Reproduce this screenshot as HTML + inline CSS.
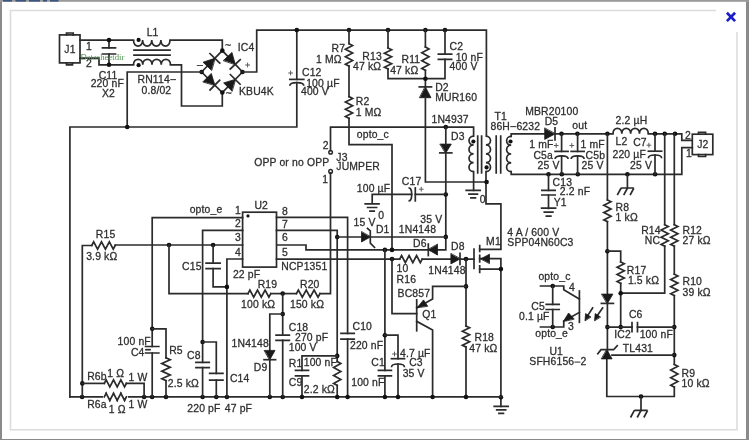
<!DOCTYPE html>
<html><head><meta charset="utf-8"><style>
html,body{margin:0;padding:0;width:749px;height:440px;overflow:hidden;background:#fff}
svg{display:block;will-change:transform}
.w path{fill:none;stroke:#2b2b2b;stroke-width:1.7;stroke-linecap:square;stroke-linejoin:miter}
.w path.t{stroke-linecap:butt}
.w path.d{stroke-width:1.1;stroke:#3a3a3a}
.w path.pl{stroke-width:1.0;stroke:#5a5a5a;stroke-linecap:butt}
.w path.f{fill:#1a1a1a;stroke:#1a1a1a;stroke-width:0.8}
.w circle.n{fill:#111;stroke:none}
.w circle.o{fill:#fff;stroke:#2b2b2b;stroke-width:1.5}
.w rect.box{fill:#fff;stroke:#2b2b2b;stroke-width:1.7}
.tx text{font-family:"Liberation Sans",sans-serif;font-size:10.4px;letter-spacing:0.15px;fill:#2e2e2e;stroke:#2e2e2e;stroke-width:0.28px}
</style></head><body>
<svg width="749" height="440" viewBox="0 0 749 440">
<rect x="0" y="0" width="749" height="440" fill="#8a8a8a"/>
<rect x="0" y="0" width="749" height="2" fill="#9a9a9a"/>
<rect x="2" y="1.8" width="744" height="437.2" fill="#ffffff"/>
<path d="M716,10.5 H10.5 V429.8 H737 V32" fill="none" stroke="#dcdcdc" stroke-width="1.6"/>
<path d="M726.9,12.7 L735.1,21.1 M735.1,12.7 L726.9,21.1" stroke="#1e1ec8" stroke-width="2.7" fill="none"/>
<rect x="3" y="0" width="9" height="1.6" fill="#3a5580"/>
<rect x="15.5" y="0" width="10.5" height="1.6" fill="#3a5580"/>
<rect x="29" y="0" width="11" height="1.6" fill="#3a5580"/>
<rect x="43" y="0" width="4" height="1.6" fill="#3a5580"/>
<rect x="50" y="0" width="8.5" height="1.6" fill="#3a5580"/>
<g class="w" transform="translate(0,0.4)">
<rect x="59.5" y="34.5" width="20.5" height="28" class="box"/>
<path d="M66.5,34.5 V32.6 H73.2 V34.5"/>
<path d="M66.5,62.5 V64.4 H72.5 V62.5"/>
<path d="M80,39.7 H133.5"/>
<path class="t" d="M133.5,39.7 C133.50,47.68 142.62,47.68 142.62,39.7 C142.62,47.68 151.75,47.68 151.75,39.7 C151.75,47.68 160.88,47.68 160.88,39.7 C160.88,47.68 170.00,47.68 170.00,39.7"/>
<path d="M170,39.7 H222.3 V50.2"/>
<path d="M80,57.7 H99 V64.4 H133.5"/>
<path class="t" d="M133.5,64.4 C133.50,57.09 142.75,57.09 142.75,64.4 C142.75,57.09 152.00,57.09 152.00,64.4 C152.00,57.09 161.25,57.09 161.25,64.4 C161.25,57.09 170.50,57.09 170.50,64.4"/>
<path d="M170.5,64.4 H181.5 V105.6 H222.3 V92.1"/>
<path d="M134,49.8 H170 M134,54.8 H170"/>
<circle cx="138.6" cy="39.5" r="2.1" class="n"/>
<circle cx="138.6" cy="64.8" r="2.1" class="n"/>
<path d="M109,39.7 V47.5 M109,53.6 V64.4"/>
<path d="M102.5,47.5 H115.5 M102.5,53.6 H115.5"/>
<circle cx="109" cy="39.7" r="2.3" class="n"/>
<circle cx="109" cy="64.4" r="2.3" class="n"/>
<path class="d" d="M170.8,79.2 H175.4"/>
<path d="M201.6,71.6 L222.3,50.2 L242.5,71.6 L222.3,92.1 Z"/>
<path class="f" d="M211.36,69.85 L203.02,61.79 L214.85,57.90Z"/>
<path d="M219.74,62.63 L209.96,53.18"/>
<path class="f" d="M223.54,59.96 L231.97,52.00 L235.23,63.90Z"/>
<path d="M230.28,68.56 L240.17,59.23"/>
<path class="f" d="M203.11,81.26 L211.27,73.01 L214.85,84.72Z"/>
<path d="M210.06,89.55 L219.63,79.89"/>
<path class="f" d="M231.89,90.64 L223.62,82.49 L235.23,78.98Z"/>
<path d="M240.07,83.75 L230.38,74.21"/>
<circle cx="222.3" cy="50.2" r="2.3" class="n"/>
<circle cx="201.6" cy="71.6" r="2.3" class="n"/>
<circle cx="242.5" cy="71.6" r="2.3" class="n"/>
<circle cx="222.3" cy="92.1" r="2.3" class="n"/>
<path class="pl" d="M245.2,64.6 H250.0 M247.6,62.199999999999996 V67.0"/>
<path d="M201.6,71.6 H127.2 V126.6"/>
<path d="M69.9,396.5 V126.6 H296.8 V82.2"/>
<circle cx="127.2" cy="126.6" r="2.3" class="n"/>
<path d="M242.5,71.6 H256.7 V29.7 H486.4 V135.7"/>
<path d="M296.8,29.7 V79.0"/>
<path d="M289.8,79.0 H303.8"/>
<path class="t" d="M289.8,85.4 C289.8,81.13000000000001 303.8,81.13000000000001 303.8,85.4"/>
<path class="pl" d="M288.25,72.6 H292.95000000000005 M290.6,70.25 V74.94999999999999"/>
<circle cx="296.8" cy="29.7" r="2.3" class="n"/>
<circle cx="349" cy="29.7" r="2.3" class="n"/>
<circle cx="388" cy="29.7" r="2.3" class="n"/>
<circle cx="425.4" cy="29.7" r="2.3" class="n"/>
<circle cx="445" cy="29.7" r="2.3" class="n"/>
<path d="M349,29.7 V43.3"/>
<path d="M349.00,43.30 L352.60,45.17 L345.40,48.90 L352.60,52.63 L345.40,56.37 L352.60,60.10 L345.40,63.83 L349.00,65.70"/>
<path d="M349,65.7 V96.2"/>
<path d="M349.00,96.20 L352.60,98.02 L345.40,101.65 L352.60,105.28 L345.40,108.92 L352.60,112.55 L345.40,116.18 L349.00,118.00"/>
<path d="M349,118 V144.2 H392 V249.5"/>
<path d="M388,29.7 V47.5"/>
<path d="M388.00,47.50 L391.60,49.25 L384.40,52.75 L391.60,56.25 L384.40,59.75 L391.60,63.25 L384.40,66.75 L388.00,68.50"/>
<path d="M388,68.5 V78.3 H445 V58.9"/>
<path d="M445,29.7 V53.8"/>
<path d="M438.35,53.8 H451.65 M438.35,58.9 H451.65"/>
<path d="M425.4,29.7 V46.6"/>
<path d="M425.40,46.60 L429.00,48.55 L421.80,52.45 L429.00,56.35 L421.80,60.25 L429.00,64.15 L421.80,68.05 L425.40,70.00"/>
<path d="M425.4,70 V86.5"/>
<circle cx="425.4" cy="78.3" r="2.3" class="n"/>
<path class="f" d="M419.80,97.30 L431.00,97.30 L425.40,86.50Z"/>
<path d="M419.29999999999995,86.5 H431.5"/>
<path d="M425.4,97 V181.6 H486.6"/>
<circle cx="330.6" cy="151.9" r="1.8" class="o"/>
<circle cx="330.6" cy="171.0" r="1.8" class="o"/>
<path d="M330.5,150.3 V126.7 H473.6 V135.7"/>
<circle cx="445.8" cy="126.7" r="2.3" class="n"/>
<path d="M330.5,172.5 V293.2 H320"/>
<path class="f" d="M440.30,143.70 L451.30,143.70 L445.80,152.50Z"/>
<path d="M439.8,152.5 H451.8"/>
<path d="M445.8,126.7 V143.7 M445.8,152.5 V249.4 H306 V244.6 H276.5"/>
<circle cx="445.8" cy="194.1" r="2.3" class="n"/>
<circle cx="445.8" cy="236.5" r="2.3" class="n"/>
<path class="t" d="M473.6,135.7 C467.48,135.70 467.48,144.57 473.6,144.57 C467.48,144.57 467.48,153.45 473.6,153.45 C467.48,153.45 467.48,162.32 473.6,162.32 C467.48,162.32 467.48,171.20 473.6,171.20"/>
<path class="t" d="M485.9,135.7 C492.02,135.70 492.02,144.57 485.9,144.57 C492.02,144.57 492.02,153.45 485.9,153.45 C492.02,153.45 492.02,162.32 485.9,162.32 C492.02,162.32 492.02,171.20 485.9,171.20"/>
<path class="t" d="M511.2,136.0 C505.08,136.00 505.08,144.80 511.2,144.80 C505.08,144.80 505.08,153.60 511.2,153.60 C505.08,153.60 505.08,162.40 511.2,162.40 C505.08,162.40 505.08,171.20 511.2,171.20"/>
<path d="M477.7,135.7 V172.5 M481.6,135.7 V172.5 M496.2,135.7 V172.5 M500.7,135.7 V172.5"/>
<circle cx="473.4" cy="141.1" r="2.1" class="n"/>
<circle cx="486.6" cy="167" r="2.1" class="n"/>
<circle cx="510.5" cy="141.1" r="2.1" class="n"/>
<path d="M473.6,171.2 V190"/>
<path d="M466.2,190.0 H480.2 M468.95,193.7 H477.45 M470.95,197.4 H475.45 "/>
<path d="M486,171.2 V203.5 H500.9 V249 H479.7"/>
<circle cx="486.6" cy="181.6" r="2.3" class="n"/>
<path class="d" d="M510.8,126.2 H515.8"/>
<path d="M511.2,136 V133.5 H544.7"/>
<path class="f" d="M544.70,128.00 L544.70,139.00 L555.00,133.50Z"/>
<path d="M555,127.5 V139.5"/>
<path d="M555,133.4 H613"/>
<path class="t" d="M613,133.4 C613.00,126.09 621.83,126.09 621.83,133.4 C621.83,126.09 630.65,126.09 630.65,133.4 C630.65,126.09 639.47,126.09 639.47,133.4 C639.47,126.09 648.30,126.09 648.30,133.4"/>
<path d="M648.3,133.4 H681.8 V140 H692.3"/>
<rect x="692.3" y="133.8" width="20.5" height="20.4" class="box"/>
<path d="M698.5,133.8 V131.9 H705.6 V133.8 M698.5,154.2 V156.1 H705.6 V154.2"/>
<path d="M511.2,171.2 V173.9 H681.8 V147.3 H692.3"/>
<circle cx="561.5" cy="133.4" r="2.3" class="n"/>
<circle cx="577.4" cy="133.4" r="2.3" class="n"/>
<circle cx="607.4" cy="133.4" r="2.3" class="n"/>
<circle cx="655" cy="133.4" r="2.3" class="n"/>
<circle cx="664.7" cy="133.4" r="2.3" class="n"/>
<circle cx="675" cy="133.4" r="2.3" class="n"/>
<circle cx="548.5" cy="173.9" r="2.3" class="n"/>
<circle cx="561.8" cy="173.9" r="2.3" class="n"/>
<circle cx="577.8" cy="173.9" r="2.3" class="n"/>
<circle cx="627.4" cy="173.9" r="2.3" class="n"/>
<circle cx="655.1" cy="173.9" r="2.3" class="n"/>
<path d="M561.6,133.4 V151 M561.6,155.5 V173.9"/>
<path d="M555.1,151 H568.1"/>
<path class="t" d="M555.1,158.7 C555.1,154.43 568.1,154.43 568.1,158.7"/>
<path d="M577.6,133.4 V151 M577.6,155.5 V173.9"/>
<path d="M571.1,151 H584.1"/>
<path class="t" d="M571.1,158.7 C571.1,154.43 584.1,154.43 584.1,158.7"/>
<path d="M655,133.4 V150.8 M655,154.6 V173.9"/>
<path d="M648.35,150.8 H661.65"/>
<path class="t" d="M648.35,157.79999999999998 C648.35,153.53 661.65,153.53 661.65,157.79999999999998"/>
<path class="pl" d="M553.85,145.1 H558.5500000000001 M556.2,142.75 V147.45"/>
<path class="pl" d="M569.4499999999999,145.1 H574.15 M571.8,142.75 V147.45"/>
<path class="pl" d="M646.55,144.8 H651.25 M648.9,142.45000000000002 V147.15"/>
<path d="M548.5,173.9 V190 M548.5,194.6 V207.9"/>
<path d="M541.85,190 H555.15 M541.85,194.6 H555.15"/>
<path d="M541.6,207.8 H555.6 M544.3000000000001,211.8 H552.9 M546.35,215.8 H550.85 "/>
<path d="M627.4,173.9 V187.6"/>
<path class="t" d="M621.1,187.6 H633.9 M621.10,187.6 L617.30,194.79999999999998 M627.50,187.6 L623.70,194.79999999999998 M633.90,187.6 L630.10,194.79999999999998 "/>
<path d="M607.4,133.4 V199.5"/>
<path d="M607.40,199.50 L611.00,201.32 L603.80,204.95 L611.00,208.58 L603.80,212.22 L611.00,215.85 L603.80,219.48 L607.40,221.30"/>
<path d="M607.4,221.3 V293.7"/>
<circle cx="607.4" cy="250.8" r="2.3" class="n"/>
<path d="M607.4,250.8 H620.7 V261.5"/>
<path d="M620.70,261.50 L624.30,263.29 L617.10,266.88 L624.30,270.46 L617.10,274.04 L624.30,277.62 L617.10,281.21 L620.70,283.00"/>
<path d="M620.7,283 V326.7"/>
<path d="M664.7,133.4 V224.3"/>
<path d="M664.70,224.30 L668.30,226.09 L661.10,229.68 L668.30,233.26 L661.10,236.84 L668.30,240.43 L661.10,244.01 L664.70,245.80"/>
<path d="M664.7,245.8 V292.8 H620.7"/>
<circle cx="620.7" cy="292.8" r="2.3" class="n"/>
<path d="M674.3,133.4 V224.3"/>
<path d="M674.30,224.30 L677.90,226.09 L670.70,229.68 L677.90,233.26 L670.70,236.84 L677.90,240.43 L670.70,244.01 L674.30,245.80"/>
<path d="M674.3,245.8 V273.8"/>
<path d="M674.30,273.80 L677.90,275.58 L670.70,279.15 L677.90,282.72 L670.70,286.28 L677.90,289.85 L670.70,293.42 L674.30,295.20"/>
<path d="M674.3,295.2 V364"/>
<path d="M674.30,364.00 L677.90,365.90 L670.70,369.70 L677.90,373.50 L670.70,377.30 L677.90,381.10 L670.70,384.90 L674.30,386.80"/>
<path d="M674.3,386.8 V396.1 H606.8 V359.5"/>
<circle cx="674.3" cy="326.7" r="2.3" class="n"/>
<circle cx="674.3" cy="354.7" r="2.3" class="n"/>
<path class="f" d="M601.90,293.70 L612.90,293.70 L607.40,303.00Z"/>
<path d="M601.4,303 H613.4"/>
<path d="M607.4,303 V350.7"/>
<circle cx="607.4" cy="326.7" r="2.3" class="n"/>
<circle cx="620.7" cy="326.7" r="2.3" class="n"/>
<path d="M607.4,326.7 H632 M637.5,326.7 H674.3"/>
<path d="M632,322.2 V331.2 M637.5,322.2 V331.2"/>
<path class="t" d="M593.1,306.9 L587.5,315.5 M603.1,306.9 L597,315.5"/>
<path class="f" d="M585.00,320.00 L585.60,313.20 L590.60,316.40Z"/>
<path class="f" d="M594.60,320.00 L595.20,313.20 L600.20,316.40Z"/>
<path class="f" d="M601.70,358.50 L612.10,358.50 L606.90,349.40Z"/>
<path d="M597.8,353.3 L601,349.3 H613.6 L617.2,345.3"/>
<path d="M612,354.7 H674.3"/>
<circle cx="641" cy="396.1" r="2.3" class="n"/>
<path d="M641,396.1 V409.9"/>
<path class="t" d="M634.35,409.9 H647.65 M634.35,409.9 L630.55,417.09999999999997 M641.00,409.9 L637.20,417.09999999999997 M647.65,409.9 L643.85,417.09999999999997 "/>
<path class="d" d="M575,361.7 H579.8"/>
<path d="M540.5,285.6 H563.75 V289.4 L579.4,298.75"/>
<path d="M579.4,290.6 V321.9"/>
<path d="M579.4,311.9 L566,319.5 M563.75,320.6 V326.6 H540.5"/>
<path class="f" d="M563.50,320.80 L568.60,312.60 L573.90,318.40Z"/>
<circle cx="552.7" cy="285.6" r="2.3" class="n"/>
<circle cx="552.7" cy="326.6" r="2.3" class="n"/>
<path d="M552.7,285.6 V304 M552.7,309.1 V326.6"/>
<path d="M546.2,304 H559.2 M546.2,309.1 H559.2"/>
<rect x="242.6" y="211.8" width="33.9" height="54.9" class="box"/>
<circle cx="248" cy="215.5" r="1.6" class="n"/>
<path d="M276.5,217 H347.6 V333 M347.6,338.75 V396.5"/>
<path d="M340.95000000000005,333 H354.25 M340.95000000000005,338.75 H354.25"/>
<path d="M276.5,230 H337.2 V361"/>
<path d="M337.20,361.00 L340.80,363.00 L333.60,367.00 L340.80,371.00 L333.60,375.00 L340.80,379.00 L333.60,383.00 L337.20,385.00"/>
<path d="M337.2,385 V396.5"/>
<circle cx="337.2" cy="236.6" r="2.3" class="n"/>
<circle cx="337.2" cy="355.5" r="2.3" class="n"/>
<path d="M337.2,355.5 H302 V370 M302,375.5 V396.5"/>
<path d="M295.5,370 H308.5 M295.5,375.5 H308.5"/>
<path d="M337.2,236.6 H361.5 M370.3,236.6 H445.8"/>
<path class="f" d="M361.50,231.60 L361.50,241.60 L370.30,236.60Z"/>
<path d="M367.5,228 L370.3,230.5 V242.8 L374.5,247"/>
<path d="M372.2,202.7 V194.0 H411.7 M415.3,194.0 H445.8"/>
<path class="t" d="M408.5,187.5 C412.77,187.5 412.77,200.5 408.5,200.5"/>
<path d="M415.3,187.5 V200.5"/>
<path d="M365.20000000000005,203.4 H379.0 M367.6,207.1 H376.6 M370.0,210.8 H374.20000000000005 "/>
<path class="pl" d="M418.9,188.8 H423.6 M421.25,186.45000000000002 V191.15"/>
<circle cx="384.9" cy="249.5" r="2.3" class="n"/>
<circle cx="392" cy="249.5" r="2.3" class="n"/>
<path class="f" d="M437.50,244.15 L437.50,254.65 L428.30,249.40Z"/>
<path d="M428.3,243.65 V255.15"/>
<path d="M276.5,258.7 H399.7"/>
<path d="M399.70,258.70 L401.57,255.10 L405.32,262.30 L409.07,255.10 L412.82,262.30 L416.57,255.10 L420.32,262.30 L422.20,258.70"/>
<path d="M422.2,258.7 H450.9 M460,258.7 H474"/>
<path class="f" d="M450.90,253.50 L450.90,263.50 L460.00,258.50Z"/>
<path d="M460,253.0 V264.0"/>
<circle cx="392" cy="258.7" r="2.3" class="n"/>
<circle cx="466" cy="258.7" r="2.3" class="n"/>
<path d="M392,258.7 V313.3 H416.7"/>
<path d="M416.7,299.4 V330.4"/>
<path d="M466,258.7 V325.7"/>
<path d="M466.00,325.70 L469.60,327.44 L462.40,330.93 L469.60,334.41 L462.40,337.89 L469.60,341.38 L462.40,344.86 L466.00,346.60"/>
<path d="M466,346.6 V396.8"/>
<circle cx="466" cy="286" r="2.3" class="n"/>
<path d="M466,286 H432.6 V298.6 L416.7,307.4"/>
<path class="f" d="M417.50,307.00 L423.50,299.50 L427.50,305.50Z"/>
<path d="M416.7,320.9 L432.6,329.6 V396.8"/>
<path d="M474,248.6 V267.9"/>
<path d="M479.7,245.1 V251 M479.7,255 V261.5 M479.7,265.5 V271.9"/>
<path d="M479.7,258.3 H500.9 M479.7,268.7 H500.9 M500.9,258.3 V405.9"/>
<path class="f" d="M481.00,258.30 L489.50,253.80 L489.50,262.80Z"/>
<circle cx="500.9" cy="268.7" r="2.3" class="n"/>
<circle cx="500.9" cy="396.8" r="2.3" class="n"/>
<path d="M494.2,405.9 H508.2 M496.7,409.4 H505.7 M498.95,412.9 H503.45 "/>
<path d="M384.9,249.5 V370 M384.9,375.5 V396.8"/>
<path d="M378.4,370 H391.4 M378.4,375.5 H391.4"/>
<circle cx="384.9" cy="334.8" r="2.3" class="n"/>
<path d="M384.9,334.8 H398 V358.3 M398,363.6 V396.8"/>
<path d="M391.5,358.3 H404.5"/>
<path class="t" d="M391.5,366.8 C391.5,362.53000000000003 404.5,362.53000000000003 404.5,366.8"/>
<path class="pl" d="M392.15,353.6 H396.85 M394.5,351.25 V355.95000000000005"/>
<path d="M69.9,396.5 H500.9"/>
<circle cx="82.1" cy="396.6" r="2.3" class="n"/>
<circle cx="144.1" cy="396.6" r="2.3" class="n"/>
<circle cx="152.1" cy="396.6" r="2.3" class="n"/>
<circle cx="166" cy="396.6" r="2.3" class="n"/>
<circle cx="202.6" cy="396.6" r="2.3" class="n"/>
<circle cx="216.3" cy="396.6" r="2.3" class="n"/>
<circle cx="226.9" cy="396.6" r="2.3" class="n"/>
<circle cx="269.8" cy="396.6" r="2.3" class="n"/>
<circle cx="282.7" cy="396.6" r="2.3" class="n"/>
<circle cx="302" cy="396.6" r="2.3" class="n"/>
<circle cx="337.2" cy="396.6" r="2.3" class="n"/>
<circle cx="347.6" cy="396.6" r="2.3" class="n"/>
<circle cx="384.9" cy="396.6" r="2.3" class="n"/>
<circle cx="398" cy="396.6" r="2.3" class="n"/>
<circle cx="432.6" cy="396.6" r="2.3" class="n"/>
<circle cx="466" cy="396.6" r="2.3" class="n"/>
<path d="M82.3,396.5 V245.1 H91.7"/>
<path d="M91.70,245.10 L93.66,241.50 L97.58,248.70 L101.49,241.50 L105.41,248.70 L109.33,241.50 L113.24,248.70 L115.20,245.10"/>
<path d="M115.2,244.6 H242.6"/>
<circle cx="82.3" cy="383" r="2.3" class="n"/>
<circle cx="169" cy="244.6" r="2.3" class="n"/>
<circle cx="213.1" cy="244.6" r="2.3" class="n"/>
<path d="M82.3,383 H104.3"/>
<path d="M104.30,383.00 L106.14,379.40 L109.83,386.60 L113.51,379.40 L117.19,386.60 L120.88,379.40 L124.56,386.60 L126.40,383.00"/>
<path d="M126.4,383 H144.1 V396.5"/>
<path d="M104.30,396.50 L106.14,392.90 L109.83,400.10 L113.51,392.90 L117.19,400.10 L120.88,392.90 L124.56,400.10 L126.40,396.50"/>
<rect x="103" y="393" width="25" height="7" fill="#fff"/>
<path d="M104.30,396.50 L106.14,392.90 L109.83,400.10 L113.51,392.90 L117.19,400.10 L120.88,392.90 L124.56,400.10 L126.40,396.50"/>
<path d="M242.6,217.2 H152.2 V346.1 M152.2,352.6 V396.5"/>
<path d="M145.54999999999998,346.1 H158.85 M145.54999999999998,352.6 H158.85"/>
<circle cx="152.2" cy="328.4" r="2.3" class="n"/>
<path d="M152.2,328.4 H166 V357.5"/>
<path d="M166.00,357.50 L170.20,359.39 L161.80,363.18 L170.20,366.96 L161.80,370.74 L170.20,374.52 L161.80,378.31 L166.00,380.20"/>
<path d="M166,380.2 V396.5"/>
<path d="M146,349.3 H150"/>
<path d="M242.6,230 H202.6 V362 M202.6,367.2 V396.5"/>
<path d="M195.95,362 H209.25 M195.95,367.2 H209.25"/>
<circle cx="202.6" cy="341.6" r="2.3" class="n"/>
<path d="M202.6,341.6 H216.3 V373 M216.3,379.8 V396.5"/>
<path d="M209.65,373 H222.95000000000002 M209.65,379.8 H222.95000000000002"/>
<path d="M169,244.6 V293.2 H248"/>
<path d="M248.00,293.20 L249.90,289.60 L253.70,296.80 L257.50,289.60 L261.30,296.80 L265.10,289.60 L268.90,296.80 L270.80,293.20"/>
<path d="M270.8,293.2 H296.4"/>
<path d="M296.40,293.20 L298.37,289.60 L302.30,296.80 L306.23,289.60 L310.17,296.80 L314.10,289.60 L318.03,296.80 L320.00,293.20"/>
<circle cx="282.7" cy="293.2" r="2.3" class="n"/>
<path d="M282.7,293.2 V334.8 M282.7,339.9 V396.5"/>
<path d="M276.05,334.8 H289.34999999999997 M276.05,339.9 H289.34999999999997"/>
<circle cx="282.7" cy="313.6" r="2.3" class="n"/>
<path d="M282.7,313.6 H269.8 V350 M269.8,359.3 V396.5"/>
<path class="f" d="M264.55,350.00 L275.05,350.00 L269.80,359.30Z"/>
<path d="M264.05,359.3 H275.55"/>
<path d="M213.1,244.6 V262.8 M213.1,268.3 V286.5 H226.9"/>
<path d="M206.1,262.8 H220.1 M206.1,268.3 H220.1"/>
<path d="M242.6,258.6 H226.9 V396.5"/>
<circle cx="226.9" cy="286.5" r="2.3" class="n"/>
</g>
<g class="tx">
<text x="64.3" y="53">J1</text>
<text x="86" y="50.2">1</text>
<text x="86" y="66.6">2</text>
<text x="98.7" y="78.7">C11</text>
<text x="90.7" y="87">220 nF</text>
<text x="102" y="97">X2</text>
<text x="146.7" y="36">L1</text>
<text x="137.5" y="82.7">RN114</text>
<text x="141.5" y="94.2">0.8/02</text>
<text x="225" y="49">~</text>
<text x="237.8" y="50.5">IC4</text>
<text x="197" y="67.5">–</text>
<text x="239" y="94.7">KBU4K</text>
<text x="225.8" y="96.5">~</text>
<text x="302" y="75.7">C12</text>
<text x="306.2" y="86.8">100 µF</text>
<text x="301" y="94.7">400 V</text>
<text x="331.6" y="51.7">R7</text>
<text x="316" y="63">1 MΩ</text>
<text x="355.8" y="105.3">R2</text>
<text x="355.8" y="115.6">1 MΩ</text>
<text x="356.8" y="138">opto_c</text>
<text x="362.3" y="60">R13</text>
<text x="353" y="70.1">47 kΩ</text>
<text x="449.6" y="49.7">C2</text>
<text x="455.7" y="61">10 nF</text>
<text x="449.6" y="70">400 V</text>
<text x="401.5" y="63">R11</text>
<text x="390.2" y="73.6">47 kΩ</text>
<text x="435.2" y="91.2">D2</text>
<text x="435.2" y="100.8">MUR160</text>
<text x="322.8" y="149.1">2</text>
<text x="322.3" y="182.9">1</text>
<text x="254.2" y="166.0">OPP or no OPP</text>
<text x="336.3" y="160.6">J3</text>
<text x="336.3" y="169.8">JUMPER</text>
<text x="431.5" y="122.7">1N4937</text>
<text x="451" y="140.1">D3</text>
<text x="494.5" y="119.7">T1</text>
<text x="490.5" y="129.9">86H</text>
<text x="516.4" y="129.9">6232</text>
<text x="479.7" y="203.1">0</text>
<text x="525.2" y="114.6">MBR20100</text>
<text x="544.7" y="125.2">D5</text>
<text x="572.3" y="128.9">out</text>
<text x="529.3" y="148.3">1 mF</text>
<text x="533.4" y="159.2">C5a</text>
<text x="537.5" y="168.8">25 V</text>
<text x="580.6" y="148.3">1 mF</text>
<text x="585.6" y="159.2">C5b</text>
<text x="581.5" y="169">25 V</text>
<text x="615.6" y="124.1">2.2 µH</text>
<text x="615.6" y="145.4">L2</text>
<text x="633.2" y="146.4">C7</text>
<text x="612.5" y="158.3">220 µF</text>
<text x="630" y="168.5">25 V</text>
<text x="685" y="138.9">2</text>
<text x="686" y="157">1</text>
<text x="697.2" y="148">J2</text>
<text x="552.6" y="186">C13</text>
<text x="559.8" y="194.6">2.2 nF</text>
<text x="553.7" y="205.8">Y1</text>
<text x="615.6" y="211">R8</text>
<text x="615.6" y="220.7">1 kΩ</text>
<text x="641.2" y="233.5">R14</text>
<text x="644.8" y="243.8">NC</text>
<text x="682.5" y="233.5">R12</text>
<text x="682.5" y="243.8">27 kΩ</text>
<text x="626.8" y="273.8">R17</text>
<text x="627.9" y="284">1.5 kΩ</text>
<text x="682.5" y="285.4">R10</text>
<text x="682.5" y="295.7">39 kΩ</text>
<text x="628.9" y="317.8">C6</text>
<text x="614.2" y="337.8">IC2</text>
<text x="639.7" y="338">100 nF</text>
<text x="622.8" y="351.5">TL431</text>
<text x="549.4" y="354.7">U1</text>
<text x="529.3" y="365.4">SFH6156</text>
<text x="580.5" y="365.4">2</text>
<text x="681.5" y="376.6">R9</text>
<text x="681.5" y="387.3">10 kΩ</text>
<text x="538.4" y="279.5">opto_c</text>
<text x="569.1" y="290.7">4</text>
<text x="531.3" y="310.1">C5</text>
<text x="519" y="320.4">0.1 µF</text>
<text x="568.1" y="329.6">3</text>
<text x="535.3" y="337.4">opto_e</text>
<text x="189.7" y="212.5">opto_e</text>
<text x="254.4" y="209">U2</text>
<text x="235" y="214.4">1</text>
<text x="235" y="227.4">2</text>
<text x="235" y="240.6">3</text>
<text x="235" y="255.6">4</text>
<text x="282" y="214.6">8</text>
<text x="282" y="227.6">7</text>
<text x="282" y="241">6</text>
<text x="282" y="256">5</text>
<text x="182.1" y="270.1">C15</text>
<text x="232.9" y="278.1">22 pF</text>
<text x="281.25" y="270">NCP1351</text>
<text x="352.5" y="329.5">C10</text>
<text x="350" y="348.75">220 nF</text>
<text x="288.75" y="367">R1</text>
<text x="303.75" y="366.25">100 nF</text>
<text x="288.75" y="385.5">C9</text>
<text x="303.75" y="393">2.2 kΩ</text>
<text x="353.6" y="226.2">15 V</text>
<text x="375.9" y="233.4">D1</text>
<text x="420.3" y="223.2">35 V</text>
<text x="398.8" y="233.4">1N4148</text>
<text x="401.8" y="185.3">C17</text>
<text x="356.8" y="191.5">100 µF</text>
<text x="378.2" y="219.1">0</text>
<text x="413.1" y="247.3">D6</text>
<text x="396.6" y="271.7">10</text>
<text x="396.6" y="283">R16</text>
<text x="397.6" y="296.9">BC857</text>
<text x="422.2" y="317.8">Q1</text>
<text x="428.3" y="274.4">1N4148</text>
<text x="451" y="249.8">D8</text>
<text x="474.5" y="341.4">R18</text>
<text x="469.3" y="352.3">47 kΩ</text>
<text x="486.1" y="244.6">M1</text>
<text x="507.3" y="235.8">4 A / 600 V</text>
<text x="507.3" y="246.2">SPP04N60C3</text>
<text x="371.25" y="366.25">C1</text>
<text x="351.25" y="386.25">100 nF</text>
<text x="400" y="357">4.7 µF</text>
<text x="409.2" y="366.2">C3</text>
<text x="402.7" y="376.6">35 V</text>
<text x="95.8" y="237.5">R15</text>
<text x="86.2" y="260.4">3.9 kΩ</text>
<text x="87.2" y="380">R6b</text>
<text x="107.2" y="377.1">1 Ω</text>
<text x="128.5" y="381">1 W</text>
<text x="87.2" y="408.1">R6a</text>
<text x="108.7" y="412.5">1 Ω</text>
<text x="128.5" y="408.1">1 W</text>
<text x="117.6" y="344.6">100 nF</text>
<text x="130.9" y="356.4">C4</text>
<text x="169.2" y="354.4">R5</text>
<text x="167.8" y="387.4">2.5 kΩ</text>
<text x="187" y="359.4">C8</text>
<text x="229.9" y="381.8">C14</text>
<text x="187.3" y="411.5">220 pF</text>
<text x="224.8" y="411.5">47 pF</text>
<text x="257.7" y="287.9">R19</text>
<text x="241.1" y="308.2">100 kΩ</text>
<text x="300" y="287.5">R20</text>
<text x="290" y="307.5">150 kΩ</text>
<text x="288.75" y="331.25">C18</text>
<text x="295" y="341.25">270 pF</text>
<text x="288.75" y="351.25">100 V</text>
<text x="231.6" y="346.7">1N4148</text>
<text x="253.8" y="370.6">D9</text>
</g>
<text x="80.4" y="59.9" font-size="9.2" font-family="Liberation Serif" fill="#4f9450" textLength="44" lengthAdjust="spacingAndGlyphs">Datasheetdir</text>
</svg>
</body></html>
